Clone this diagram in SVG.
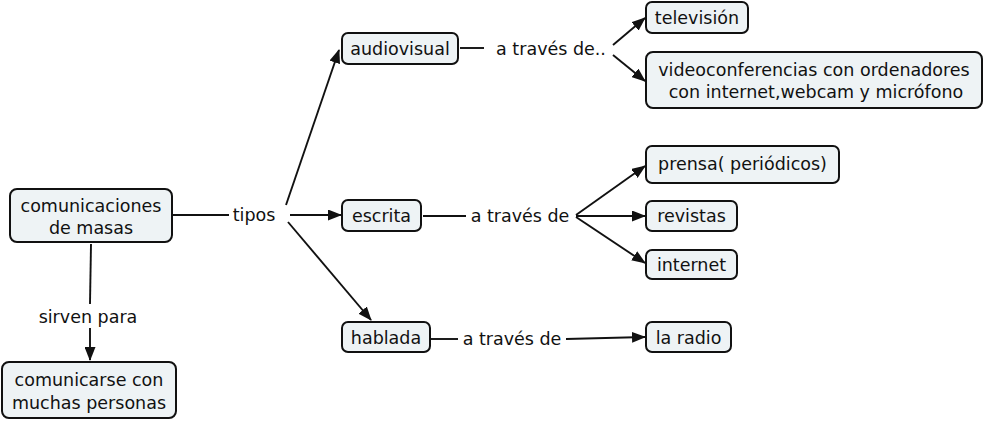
<svg xmlns="http://www.w3.org/2000/svg" width="985" height="422" viewBox="0 0 985 422">
<defs>
<style>
.n rect{fill:#eef3f5;stroke:#111111;stroke-width:2}
text{font-family:"DejaVu Sans",Verdana,sans-serif;font-size:17.5px;fill:#111111;text-anchor:middle}
.c line,.c path{stroke:#111111;stroke-width:1.9;fill:none}
.a{marker-end:url(#ah)}
</style>
<marker id="ah" viewBox="0 0 14 11" refX="13" refY="5.5" markerWidth="14" markerHeight="11" markerUnits="userSpaceOnUse" orient="auto">
<path d="M0,0 L14,5.5 L0,11 z" fill="#111111" stroke="none"/>
</marker>
</defs>
<rect width="985" height="422" fill="#ffffff"/>
<g class="c">
<line x1="173" y1="215" x2="229" y2="215"/>
<line class="a" x1="286" y1="205" x2="339" y2="50"/>
<line class="a" x1="290" y1="215" x2="341" y2="215"/>
<line class="a" x1="288" y1="222" x2="371" y2="320"/>
<line x1="91" y1="244" x2="90" y2="304"/>
<line class="a" x1="90" y1="328" x2="90" y2="360"/>
<line x1="460" y1="48" x2="484" y2="48"/>
<line class="a" x1="613" y1="45" x2="645" y2="18"/>
<line class="a" x1="613" y1="55" x2="645" y2="81"/>
<line x1="423" y1="216" x2="466" y2="216"/>
<line class="a" x1="576" y1="215" x2="645" y2="166"/>
<line class="a" x1="576" y1="216" x2="645" y2="216"/>
<line class="a" x1="576" y1="217" x2="645" y2="263"/>
<line x1="431" y1="339" x2="458" y2="339"/>
<line class="a" x1="566" y1="339" x2="645" y2="337"/>
</g>
<text x="254" y="221">tipos</text>
<text x="88" y="323">sirven para</text>
<text x="551" y="55">a través de..</text>
<text x="520" y="222">a través de</text>
<text x="512" y="345">a través de</text>
<g id="n1" class="n"><rect x="10" y="189" width="162" height="53" rx="7"/><text x="91" y="212">comunicaciones</text><text x="91" y="234">de masas</text></g>
<g id="n2" class="n"><rect x="2" y="362" width="174" height="56" rx="7"/><text x="89" y="386">comunicarse con</text><text x="89" y="409">muchas personas</text></g>
<g id="n3" class="n"><rect x="342" y="33" width="116" height="31" rx="6"/><text x="400" y="55">audiovisual</text></g>
<g id="n4" class="n"><rect x="342" y="200" width="79" height="31" rx="6"/><text x="381.5" y="222">escrita</text></g>
<g id="n5" class="n"><rect x="342" y="322" width="88" height="30" rx="6"/><text x="386" y="344">hablada</text></g>
<g id="n6" class="n"><rect x="646" y="2" width="102" height="31" rx="6"/><text x="697" y="24">televisión</text></g>
<g id="n7" class="n"><rect x="646" y="52" width="336" height="56" rx="7"/><text x="814" y="76">videoconferencias con ordenadores</text><text x="816" y="98">con internet,webcam y micrófono</text></g>
<g id="n8" class="n"><rect x="646" y="146" width="193" height="37" rx="6"/><text x="742.5" y="170">prensa( periódicos)</text></g>
<g id="n9" class="n"><rect x="646" y="201" width="91" height="30" rx="6"/><text x="691.5" y="222">revistas</text></g>
<g id="n10" class="n"><rect x="646" y="250" width="91" height="29" rx="6"/><text x="691.5" y="271">internet</text></g>
<g id="n11" class="n"><rect x="646" y="322" width="85" height="30" rx="6"/><text x="688.5" y="344">la radio</text></g>
</svg>
